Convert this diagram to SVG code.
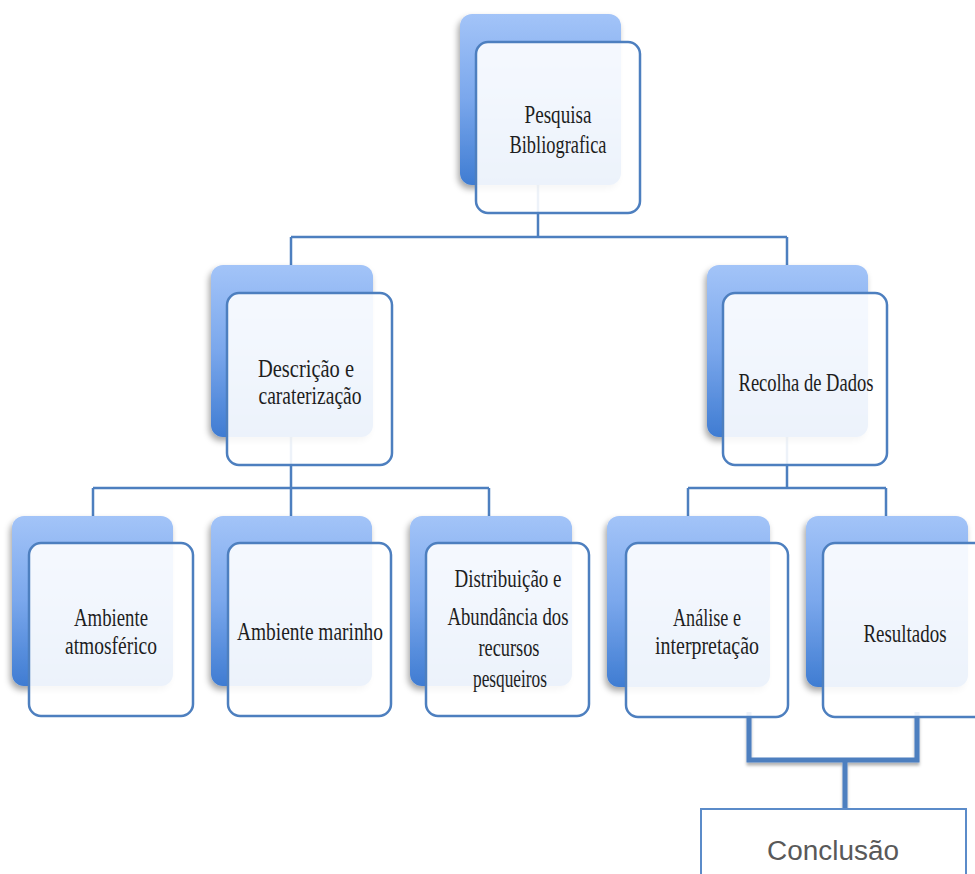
<svg xmlns="http://www.w3.org/2000/svg" width="975" height="874" viewBox="0 0 975 874">
<defs>
<linearGradient id="bg" x1="0" y1="0" x2="0" y2="1">
<stop offset="0" stop-color="#a3c4f8"/>
<stop offset="0.5" stop-color="#7aa7ec"/>
<stop offset="1" stop-color="#3f7cd2"/>
</linearGradient>
<filter id="sh" x="-20%" y="-20%" width="140%" height="140%">
<feDropShadow dx="-2" dy="4" stdDeviation="3" flood-color="#000" flood-opacity="0.35"/>
</filter>
<filter id="sh2" filterUnits="userSpaceOnUse" x="700" y="700" width="260" height="120">
<feDropShadow dx="0" dy="3" stdDeviation="1.5" flood-color="#000" flood-opacity="0.3"/>
</filter>
</defs>
<style>
.back{fill:url(#bg);filter:url(#sh)}
.front{fill:#ffffff;fill-opacity:0.9;stroke:#4d7fbf;stroke-width:2.5}
.t{font-family:"Liberation Serif",serif;font-size:25px;fill:#1e1e1e;text-anchor:middle}
.c{fill:none;stroke:#4d7fbf;stroke-width:2.5}
.ct{fill:none;stroke:#4d7fbf;stroke-width:5;filter:url(#sh2)}
</style>
<rect width="975" height="874" fill="#ffffff"/>
<g id="connectors">
<path class="c" d="M538 130 V237 M291 237 H787 M291 237 V300 M787 237 V300"/>
<path class="c" d="M291 380 V488 M93 488 H489 M93 488 V550 M291 488 V550 M489 488 V550"/>
<path class="c" d="M787 380 V488 M688 488 H886 M688 488 V550 M886 488 V550"/>
<path class="ct" d="M749 712 V760 H917 V712 M845 760 V809"/>
</g>
<g id="n-pesquisa">
<rect class="back" x="460" y="14" width="161" height="171" rx="12"/>
<rect class="front" x="476" y="42" width="164" height="171" rx="12"/>
<text class="t" x="558" y="123" textLength="67" lengthAdjust="spacingAndGlyphs">Pesquisa</text>
<text class="t" x="558" y="153" textLength="97" lengthAdjust="spacingAndGlyphs">Bibliografica</text>
</g>
<g id="n-descricao">
<rect class="back" x="211" y="265" width="162" height="172" rx="12"/>
<rect class="front" x="227" y="293" width="165" height="172" rx="12"/>
<text class="t" x="306" y="377" textLength="96" lengthAdjust="spacingAndGlyphs">Descrição e</text>
<text class="t" x="310" y="404" textLength="103" lengthAdjust="spacingAndGlyphs">caraterização</text>
</g>
<g id="n-recolha">
<rect class="back" x="707" y="265" width="161" height="172" rx="12"/>
<rect class="front" x="723" y="293" width="164" height="172" rx="12"/>
<text class="t" x="806" y="391" textLength="135" lengthAdjust="spacingAndGlyphs">Recolha de Dados</text>
</g>
<g id="n-atmosferico">
<rect class="back" x="12" y="516" width="161" height="170" rx="12"/>
<rect class="front" x="29" y="543" width="164" height="173" rx="12"/>
<text class="t" x="111" y="626" textLength="74" lengthAdjust="spacingAndGlyphs">Ambiente</text>
<text class="t" x="111" y="654" textLength="92" lengthAdjust="spacingAndGlyphs">atmosférico</text>
</g>
<g id="n-marinho">
<rect class="back" x="211" y="516" width="161" height="170" rx="12"/>
<rect class="front" x="228" y="543" width="163" height="173" rx="12"/>
<text class="t" x="310" y="640" textLength="146" lengthAdjust="spacingAndGlyphs">Ambiente marinho</text>
</g>
<g id="n-distribuicao">
<rect class="back" x="410" y="516" width="162" height="170" rx="12"/>
<rect class="front" x="426" y="543" width="163" height="173" rx="12"/>
<text class="t" x="508" y="587" textLength="107" lengthAdjust="spacingAndGlyphs">Distribuição e</text>
<text class="t" x="508" y="625" textLength="121" lengthAdjust="spacingAndGlyphs">Abundância dos</text>
<text class="t" x="509" y="656" textLength="61" lengthAdjust="spacingAndGlyphs">recursos</text>
<text class="t" x="510" y="687" textLength="74" lengthAdjust="spacingAndGlyphs">pesqueiros</text>
</g>
<g id="n-analise">
<rect class="back" x="607" y="516" width="163" height="171" rx="12"/>
<rect class="front" x="626" y="543" width="162" height="174" rx="12"/>
<text class="t" x="707" y="626" textLength="68" lengthAdjust="spacingAndGlyphs">Análise e</text>
<text class="t" x="707" y="654" textLength="104" lengthAdjust="spacingAndGlyphs">interpretação</text>
</g>
<g id="n-resultados">
<rect class="back" x="806" y="516" width="162" height="171" rx="12"/>
<rect class="front" x="823" y="543" width="164" height="174" rx="12"/>
<text class="t" x="905" y="642" textLength="83" lengthAdjust="spacingAndGlyphs">Resultados</text>
</g>
<g id="n-conclusao">
<rect x="701" y="809" width="265" height="100" fill="#ffffff" stroke="#5b8bc9" stroke-width="2"/>
<text x="833" y="860" font-family="Liberation Sans, sans-serif" font-size="27" fill="#595959" text-anchor="middle" textLength="132" lengthAdjust="spacingAndGlyphs">Conclusão</text>
</g>
</svg>
